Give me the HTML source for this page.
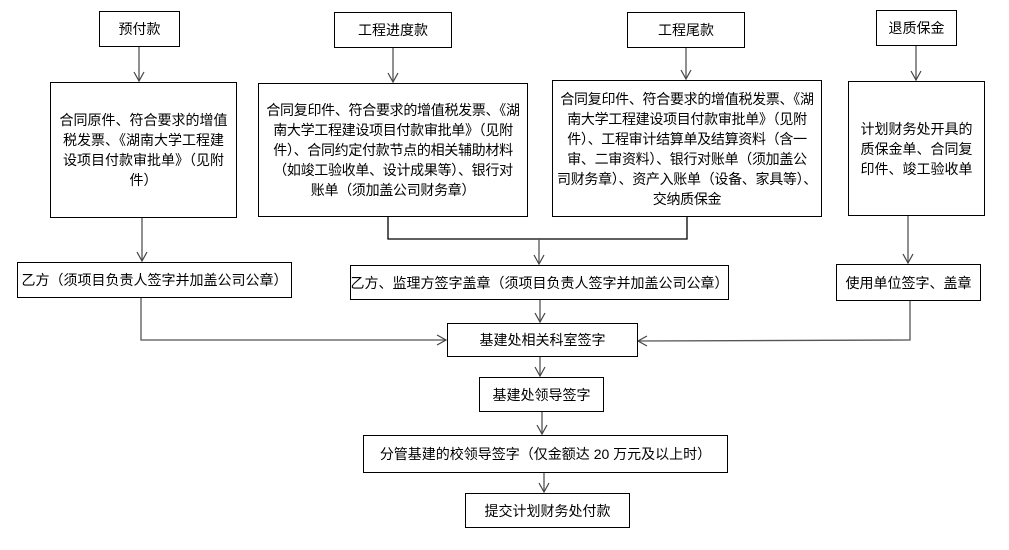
<!DOCTYPE html>
<html><head><meta charset="utf-8"><style>
body{margin:0;background:#fff;}
#c{position:relative;width:1009px;height:550px;overflow:hidden;font-family:"Liberation Sans","Noto Sans CJK SC",sans-serif;color:#000;}
.b{position:absolute;box-sizing:border-box;border:1.3px solid #000;background:#fff;display:flex;align-items:center;justify-content:center;text-align:center;font-size:14px;line-height:20px;white-space:nowrap;}
svg{position:absolute;left:0;top:0;}
</style></head><body><div id="c">
<svg width="1009" height="550" viewBox="0 0 1009 550">
<defs><marker id="a" markerWidth="12" markerHeight="12" refX="10" refY="6" orient="auto" markerUnits="userSpaceOnUse"><path d="M1,1 L10,6 L1,11" fill="none" stroke="#444" stroke-width="1.2"/></marker></defs>
<g stroke="#555" stroke-width="1.3" fill="none">
<line x1="139" y1="46" x2="139" y2="81" marker-end="url(#a)"/>
<line x1="393" y1="47" x2="393" y2="82" marker-end="url(#a)"/>
<line x1="686" y1="47" x2="686" y2="79" marker-end="url(#a)"/>
<line x1="916" y1="45" x2="916" y2="80" marker-end="url(#a)"/>
<line x1="142" y1="217" x2="142" y2="261" marker-end="url(#a)"/>
<polyline points="388,216 388,239 687,239 687,216" stroke="#000"/>
<line x1="539" y1="239" x2="539" y2="264" marker-end="url(#a)"/>
<line x1="908" y1="215" x2="908" y2="263" marker-end="url(#a)"/>
<polyline points="141,297 141,340 446,340" marker-end="url(#a)"/>
<polyline points="910,300 910,340 638,341" marker-end="url(#a)"/>
<line x1="540" y1="299" x2="540" y2="322" marker-end="url(#a)"/>
<line x1="540" y1="356" x2="540" y2="376" marker-end="url(#a)"/>
<line x1="542" y1="411" x2="542" y2="434" marker-end="url(#a)"/>
<line x1="544" y1="472" x2="544" y2="492" marker-end="url(#a)"/>
</g></svg>
<div class="b" style="left:99px;top:11px;width:81px;height:36px">预付款</div>
<div class="b" style="left:334px;top:12px;width:118px;height:36px">工程进度款</div>
<div class="b" style="left:627px;top:12px;width:118px;height:36px">工程尾款</div>
<div class="b" style="left:876px;top:10px;width:81px;height:36px">退质保金</div>
<div class="b" style="left:50px;top:82px;width:187px;height:136px">合同原件、符合要求的增值<br>税发票、《湖南大学工程建<br>设项目付款审批单》（见附<br>件）</div>
<div class="b" style="left:258px;top:83px;width:270px;height:134px;letter-spacing:-0.3px">合同复印件、符合要求的增值税发票、《湖<br>南大学工程建设项目付款审批单》（见附<br>件）、合同约定付款节点的相关辅助材料<br>（如竣工验收单、设计成果等）、银行对<br>账单（须加盖公司财务章）</div>
<div class="b" style="left:552px;top:80px;width:270px;height:137px;letter-spacing:-0.3px">合同复印件、符合要求的增值税发票、《湖<br>南大学工程建设项目付款审批单》（见附<br>件）、工程审计结算单及结算资料（含一<br>审、二审资料）、银行对账单（须加盖公<br>司财务章）、资产入账单（设备、家具等）、<br>交纳质保金</div>
<div class="b" style="left:848px;top:81px;width:137px;height:135px">计划财务处开具的<br>质保金单、合同复<br>印件、竣工验收单</div>
<div class="b" style="left:17px;top:262px;width:275px;height:36px">乙方（须项目负责人签字并加盖公司公章）</div>
<div class="b" style="left:350px;top:265px;width:379px;height:35px">乙方、监理方签字盖章（须项目负责人签字并加盖公司公章）</div>
<div class="b" style="left:836px;top:264px;width:145px;height:37px">使用单位签字、盖章</div>
<div class="b" style="left:447px;top:323px;width:191px;height:34px">基建处相关科室签字</div>
<div class="b" style="left:479px;top:377px;width:125px;height:35px">基建处领导签字</div>
<div class="b" style="left:363px;top:435px;width:365px;height:38px">分管基建的校领导签字（仅金额达 20 万元及以上时）</div>
<div class="b" style="left:465px;top:493px;width:165px;height:35px">提交计划财务处付款</div>
</div></body></html>
